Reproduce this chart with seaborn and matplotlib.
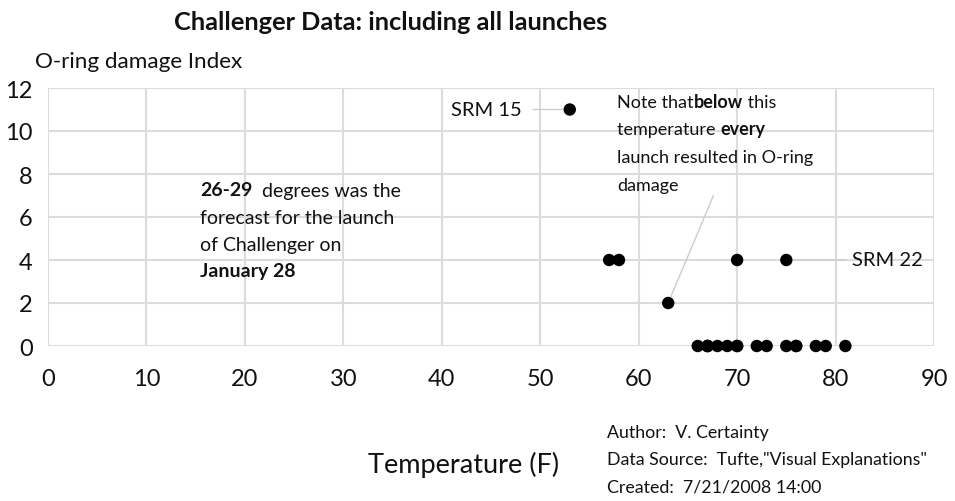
import matplotlib
matplotlib.use("Agg")
import matplotlib.pyplot as plt
import seaborn as sns
import pandas as pd

# launch temperatures (F) and O-ring damage index
temps = [53, 57, 58, 63, 70, 75,
         66, 67, 67, 67, 68, 69, 70, 70, 72, 73, 75, 76, 76, 78, 79, 81]
damage = [11, 4, 4, 2, 4, 4,
          0, 0, 0, 0, 0, 0, 0, 0, 0, 0, 0, 0, 0, 0, 0, 0]
x_ticks = [0, 10, 20, 30, 40, 50, 60, 70, 80, 90]
y_ticks = [0, 2, 4, 6, 8, 10, 12]

df = pd.DataFrame({"Temperature": temps, "Damage": damage})

sns.set_style("white")
plt.rcParams["font.family"] = ["Lato", "DejaVu Sans"]
plt.rcParams["text.color"] = "#111111"

W, H = 955, 502
fig = plt.figure(figsize=(W / 100, H / 100), dpi=100)
ax = fig.add_axes([48 / W, 1 - 347 / H, (934 - 48) / W, (347 - 89) / H])


def px(x, y):
    return x / W, 1 - y / H


sns.scatterplot(data=df, x="Temperature", y="Damage", ax=ax, color="black",
                s=80, edgecolor="none", zorder=3, clip_on=False)

ax.set_xlim(0, 90)
ax.set_ylim(0, 12)
ax.set_xticks(x_ticks)
ax.set_yticks(y_ticks)
ax.grid(True, color="#dcdcdc", linewidth=1.5)
for sp in ax.spines.values():
    sp.set_visible(False)
ax.tick_params(axis="both", length=0, labelsize=17, colors="#111111")
ax.tick_params(axis="x", pad=16)
ax.tick_params(axis="y", pad=11)
ax.set_xlabel("")
ax.set_ylabel("")

# titles and labels
fig.text(*px(391, 22), "Challenger Data: including all launches", fontsize=18.3,
         fontweight="bold", ha="center", va="center")
fig.text(*px(35, 62), "O-ring damage Index", fontsize=16.2, ha="left", va="center")
fig.text(*px(464, 465), "Temperature (F)", fontsize=19.5, ha="center", va="center")
for i, line in enumerate(["Author:  V. Certainty",
                          'Data Source:  Tufte,"Visual Explanations"',
                          "Created:  7/21/2008 14:00"]):
    fig.text(*px(607, 433 + 27.5 * i), line, fontsize=12.8, ha="left", va="center")

# point labels with leader lines
lc = "#cccccc"
ax.annotate("SRM 15", xy=(53, 11), xytext=(48.1, 11), fontsize=14.5,
            ha="right", va="center",
            arrowprops=dict(arrowstyle="-", color=lc, lw=1, shrinkA=6, shrinkB=5))
ax.annotate("SRM 22", xy=(75, 4), xytext=(81.7, 4), fontsize=14.5,
            ha="left", va="center",
            arrowprops=dict(arrowstyle="-", color=lc, lw=1, shrinkA=2, shrinkB=5))
ax.annotate("", xy=(63, 2), xytext=(67.6, 7.0),
            arrowprops=dict(arrowstyle="-", color=lc, lw=1, shrinkA=0, shrinkB=5))


def rich_line(x, y, parts, size):
    prev = None
    for txt, bold in parts:
        w = "bold" if bold else "normal"
        if prev is None:
            prev = ax.text(x, y, txt, fontsize=size, fontweight=w,
                           ha="left", va="center", transform=fig.transFigure)
        else:
            prev = ax.annotate(txt, xy=(1, 0), xycoords=prev, fontsize=size,
                               fontweight=w, ha="left", va="bottom")


note = [[("Note that", False), ("below", True), (" this", False)],
        [("temperature ", False), ("every", True)],
        [("launch resulted in O-ring", False)],
        [("damage", False)]]
for i, parts in enumerate(note):
    rich_line(*px(617, 103 + 27.5 * i), parts, 13)

forecast = [[("26-29", True), ("  degrees was the", False)],
            [("forecast for the launch", False)],
            [("of Challenger on", False)],
            [("January 28", True)]]
for i, parts in enumerate(forecast):
    rich_line(*px(200, 191 + 27 * i), parts, 14)

fig.savefig("out.png", dpi=100)
